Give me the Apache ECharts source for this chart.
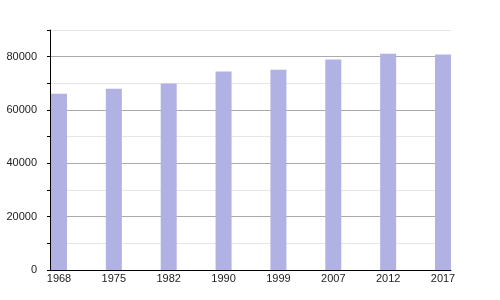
<!DOCTYPE html>
<html><head><meta charset="utf-8">
<script src="https://cdn.jsdelivr.net/npm/echarts@6/dist/echarts.min.js"></script>
<style>html,body{margin:0;padding:0;background:#fff}#c{width:500px;height:300px}</style>
</head><body><div id="c"></div>
<script>
const years = ['1968','1975','1982','1990','1999','2007','2012','2017'];
const population = [66100, 68000, 69900, 74400, 75100, 78900, 81100, 80800];
const yTicks = [0, 20000, 40000, 60000, 80000];

const chart = echarts.init(document.getElementById('c'), null, {renderer:'canvas'});
const idx = years.map((y, i) => i);
chart.setOption({
  animation: false,
  grid: {left: 50, right: 49, top: 30, bottom: 30, containLabel: false},
  xAxis: {
    type: 'value', min: -0.164, max: years.length - 1 + 0.1458,
    splitLine: {show: false},
    axisLine: {show: true, onZero: false, lineStyle: {color: '#000', width: 1}},
    axisTick: {show: false},
    axisLabel: {customValues: idx, formatter: v => years[Math.round(v)] || '',
      color: '#222', fontFamily: 'Liberation Sans, Arial, sans-serif', fontSize: 11, margin: 3, showMinLabel: true, showMaxLabel: true}
  },
  yAxis: {
    type: 'value', min: 0, max: 90000, interval: 10000,
    axisLine: {show: true, onZero: false, lineStyle: {color: '#000', width: 1}},
    axisTick: {show: true, inside: false, length: 3, lineStyle: {color: '#000'}},
    axisLabel: {formatter: v => yTicks.includes(v) ? String(v) : '', color: '#222',
      fontFamily: 'Liberation Sans, Arial, sans-serif', fontSize: 11, margin: 13},
    splitLine: {show: true, lineStyle: {color: ['#aaaaaa', '#e6e6e6'], width: 1}}
  },
  series: [{
    type: 'bar', barWidth: 16, clip: false,
    itemStyle: {color: '#b1b1e4'},
    data: population.map((v, i) => [idx[i], v])
  }]
});
</script></body></html>
